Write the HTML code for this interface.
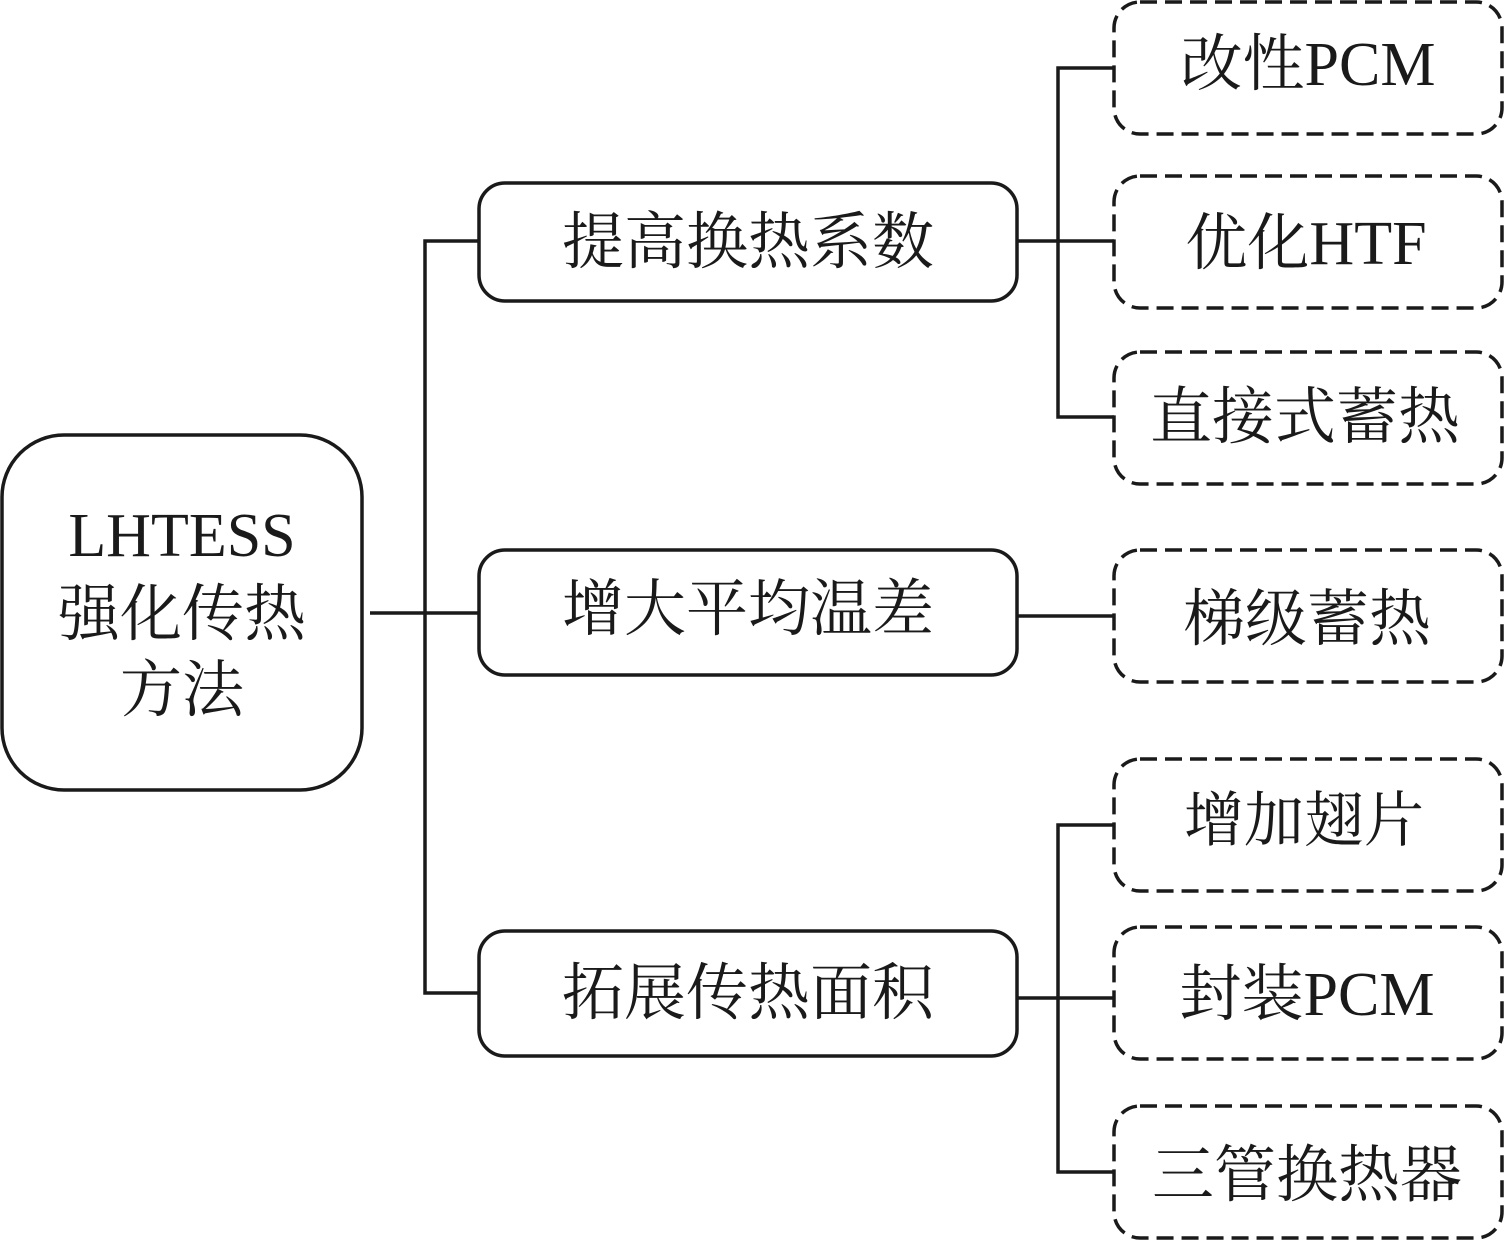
<!DOCTYPE html>
<html><head><meta charset="utf-8">
<style>
html,body{margin:0;padding:0;background:#fff;width:1504px;height:1240px;overflow:hidden}
text{font-family:"Liberation Serif","Noto Serif CJK SC",serif;fill:#1a1a1a;text-anchor:middle}
.b{fill:#fff;stroke:#1a1a1a;stroke-width:3.5}
.d{fill:#fff;stroke:#1a1a1a;stroke-width:3.5;stroke-dasharray:17 8}
.l{fill:none;stroke:#1a1a1a;stroke-width:3.5}
</style></head><body>
<svg width="1504" height="1240" viewBox="0 0 1504 1240" xmlns="http://www.w3.org/2000/svg" style="display:block">
<path class="l" d="M370 613H478M478 241H425V993H478"/>
<path class="l" d="M1017 241H1114M1114 68H1058V417H1114"/>
<path class="l" d="M1017 616H1114"/>
<path class="l" d="M1017 998H1114M1114 825H1058V1172H1114"/>
<rect class="b" x="2" y="435" width="360" height="355" rx="62"/>
<rect class="b" x="479" y="183" width="538" height="118" rx="26"/>
<rect class="b" x="479" y="550" width="538" height="125" rx="26"/>
<rect class="b" x="479" y="931" width="538" height="125" rx="26"/>
<rect class="d" x="1114" y="2" width="388" height="132" rx="26"/>
<rect class="d" x="1114" y="176" width="388" height="132" rx="26"/>
<rect class="d" x="1114" y="352" width="388" height="132" rx="26"/>
<rect class="d" x="1114" y="550" width="388" height="132" rx="26"/>
<rect class="d" x="1114" y="759" width="388" height="132" rx="26"/>
<rect class="d" x="1114" y="927" width="388" height="132" rx="26"/>
<rect class="d" x="1114" y="1106" width="388" height="132" rx="26"/>
<g font-size="62">
<text x="182" y="556">LHTESS</text>
<text x="182" y="635">强化传热</text>
<text x="182" y="711">方法</text>
<text x="748" y="263">提高换热系数</text>
<text x="748" y="630">增大平均温差</text>
<text x="748" y="1014">拓展传热面积</text>
<text x="1308" y="85">改性PCM</text>
<text x="1306" y="264">优化HTF</text>
<text x="1305" y="438">直接式蓄热</text>
<text x="1307" y="640">梯级蓄热</text>
<text x="1304" y="841" font-size="60">增加翅片</text>
<text x="1307" y="1015">封装PCM</text>
<text x="1307" y="1196">三管换热器</text>
</g>
</svg>
</body></html>
